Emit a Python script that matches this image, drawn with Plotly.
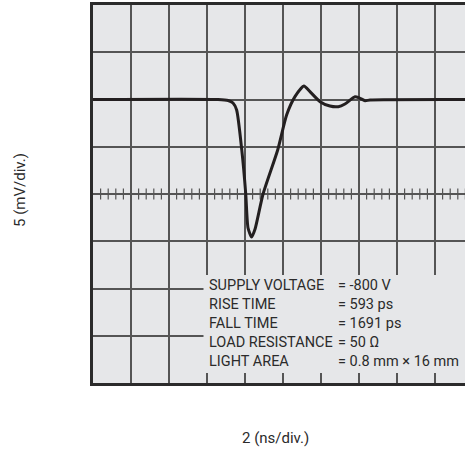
import plotly.graph_objects as go

# Photodetector output pulse, 2 ns/div horizontal, 5 mV/div vertical
time_ns = [0, 6.58, 7.11, 7.37, 7.56, 7.83, 8.04, 8.16, 8.35, 8.53, 8.95,
           9.72, 10.19, 10.63, 11.10, 11.42, 11.95, 12.47, 12.91, 13.26,
           13.79, 14.05, 14.32, 14.58, 20]
signal_mv = [10, 10, 9.9, 9.63, 8.89, 4.66, 0, -3.6, -4.55, -3.7, 0,
             4.66, 8.36, 10.3, 11.43, 10.83, 9.77, 9.31, 9.24, 9.52,
             10.3, 10.13, 9.87, 9.95, 10]

# Minor graticule ticks on the centre line (5 per division)
minor_ticks = [i * 0.4 for i in range(0, 50) if i % 5 != 0]

spec_names = ["SUPPLY VOLTAGE", "RISE TIME", "FALL TIME", "LOAD RESISTANCE", "LIGHT AREA"]
spec_values = ["= -800 V", "= 593 ps", "= 1691 ps", "= 50 Ω", "= 0.8 mm × 16 mm"]

BG = "#e6e7e9"
GRID = "#555555"
BORDER = "#2b2b2b"
TEXT = "#2b2b2b"
FONT = "Roboto"

fig = go.Figure()

fig.add_trace(go.Scatter(
    x=minor_ticks, y=[0] * len(minor_ticks), mode="markers",
    marker=dict(symbol="line-ns", size=8, line=dict(color=GRID, width=1.2)),
    hoverinfo="skip", showlegend=False,
))

fig.add_trace(go.Scatter(
    x=time_ns, y=signal_mv, mode="lines",
    line=dict(color="#231f20", width=3, shape="spline", smoothing=0.6),
    hoverinfo="skip", showlegend=False,
))

# Panel that hides the graticule behind the spec text
fig.add_shape(type="rect", xref="paper", yref="paper",
              x0=(203.5 - 93) / 372, x1=1.0,
              y0=(383 - 373) / 378, y1=(383 - 275) / 378,
              fillcolor=BG, line=dict(width=0), layer="above")

row_px = [285.7, 304.5, 323.3, 342.3, 361.5]
for name, val, py in zip(spec_names, spec_values, row_px):
    yp = (383 - py) / 378
    fig.add_annotation(text=name, xref="paper", yref="paper",
                       x=(207 - 93) / 372, y=yp, xanchor="left", yanchor="middle",
                       showarrow=False, font=dict(family=FONT, size=14.5, color=TEXT))
    fig.add_annotation(text=val, xref="paper", yref="paper",
                       x=(336 - 93) / 372, y=yp, xanchor="left", yanchor="middle",
                       showarrow=False, font=dict(family=FONT, size=14.5, color=TEXT))

# Axis captions
fig.add_annotation(text="5 (mV/div.)", xref="paper", yref="paper",
                   x=(20 - 93) / 372, y=(383 - 190) / 378, textangle=-90,
                   xanchor="center", yanchor="middle", showarrow=False,
                   font=dict(family=FONT, size=15, color=TEXT))
fig.add_annotation(text="2 (ns/div.)", xref="paper", yref="paper",
                   x=(275 - 93) / 372, y=(383 - 438) / 378,
                   xanchor="center", yanchor="middle", showarrow=False,
                   font=dict(family=FONT, size=15, color=TEXT))

fig.update_layout(
    width=465, height=459,
    margin=dict(l=93, r=0, t=5, b=76),
    paper_bgcolor="white", plot_bgcolor=BG,
    xaxis=dict(range=[0, 372 / 38 * 2], dtick=2, tick0=0,
               showgrid=True, gridcolor=GRID, gridwidth=1.5,
               zeroline=False, showticklabels=False, ticks="",
               showline=True, linecolor=BORDER, linewidth=2.5, mirror=True),
    yaxis=dict(range=[-20, 20], dtick=5, tick0=0,
               showgrid=True, gridcolor=GRID, gridwidth=1.5,
               zeroline=False, showticklabels=False, ticks="",
               showline=True, linecolor=BORDER, linewidth=2.5, mirror=False),
)

fig.write_html("out.html")
